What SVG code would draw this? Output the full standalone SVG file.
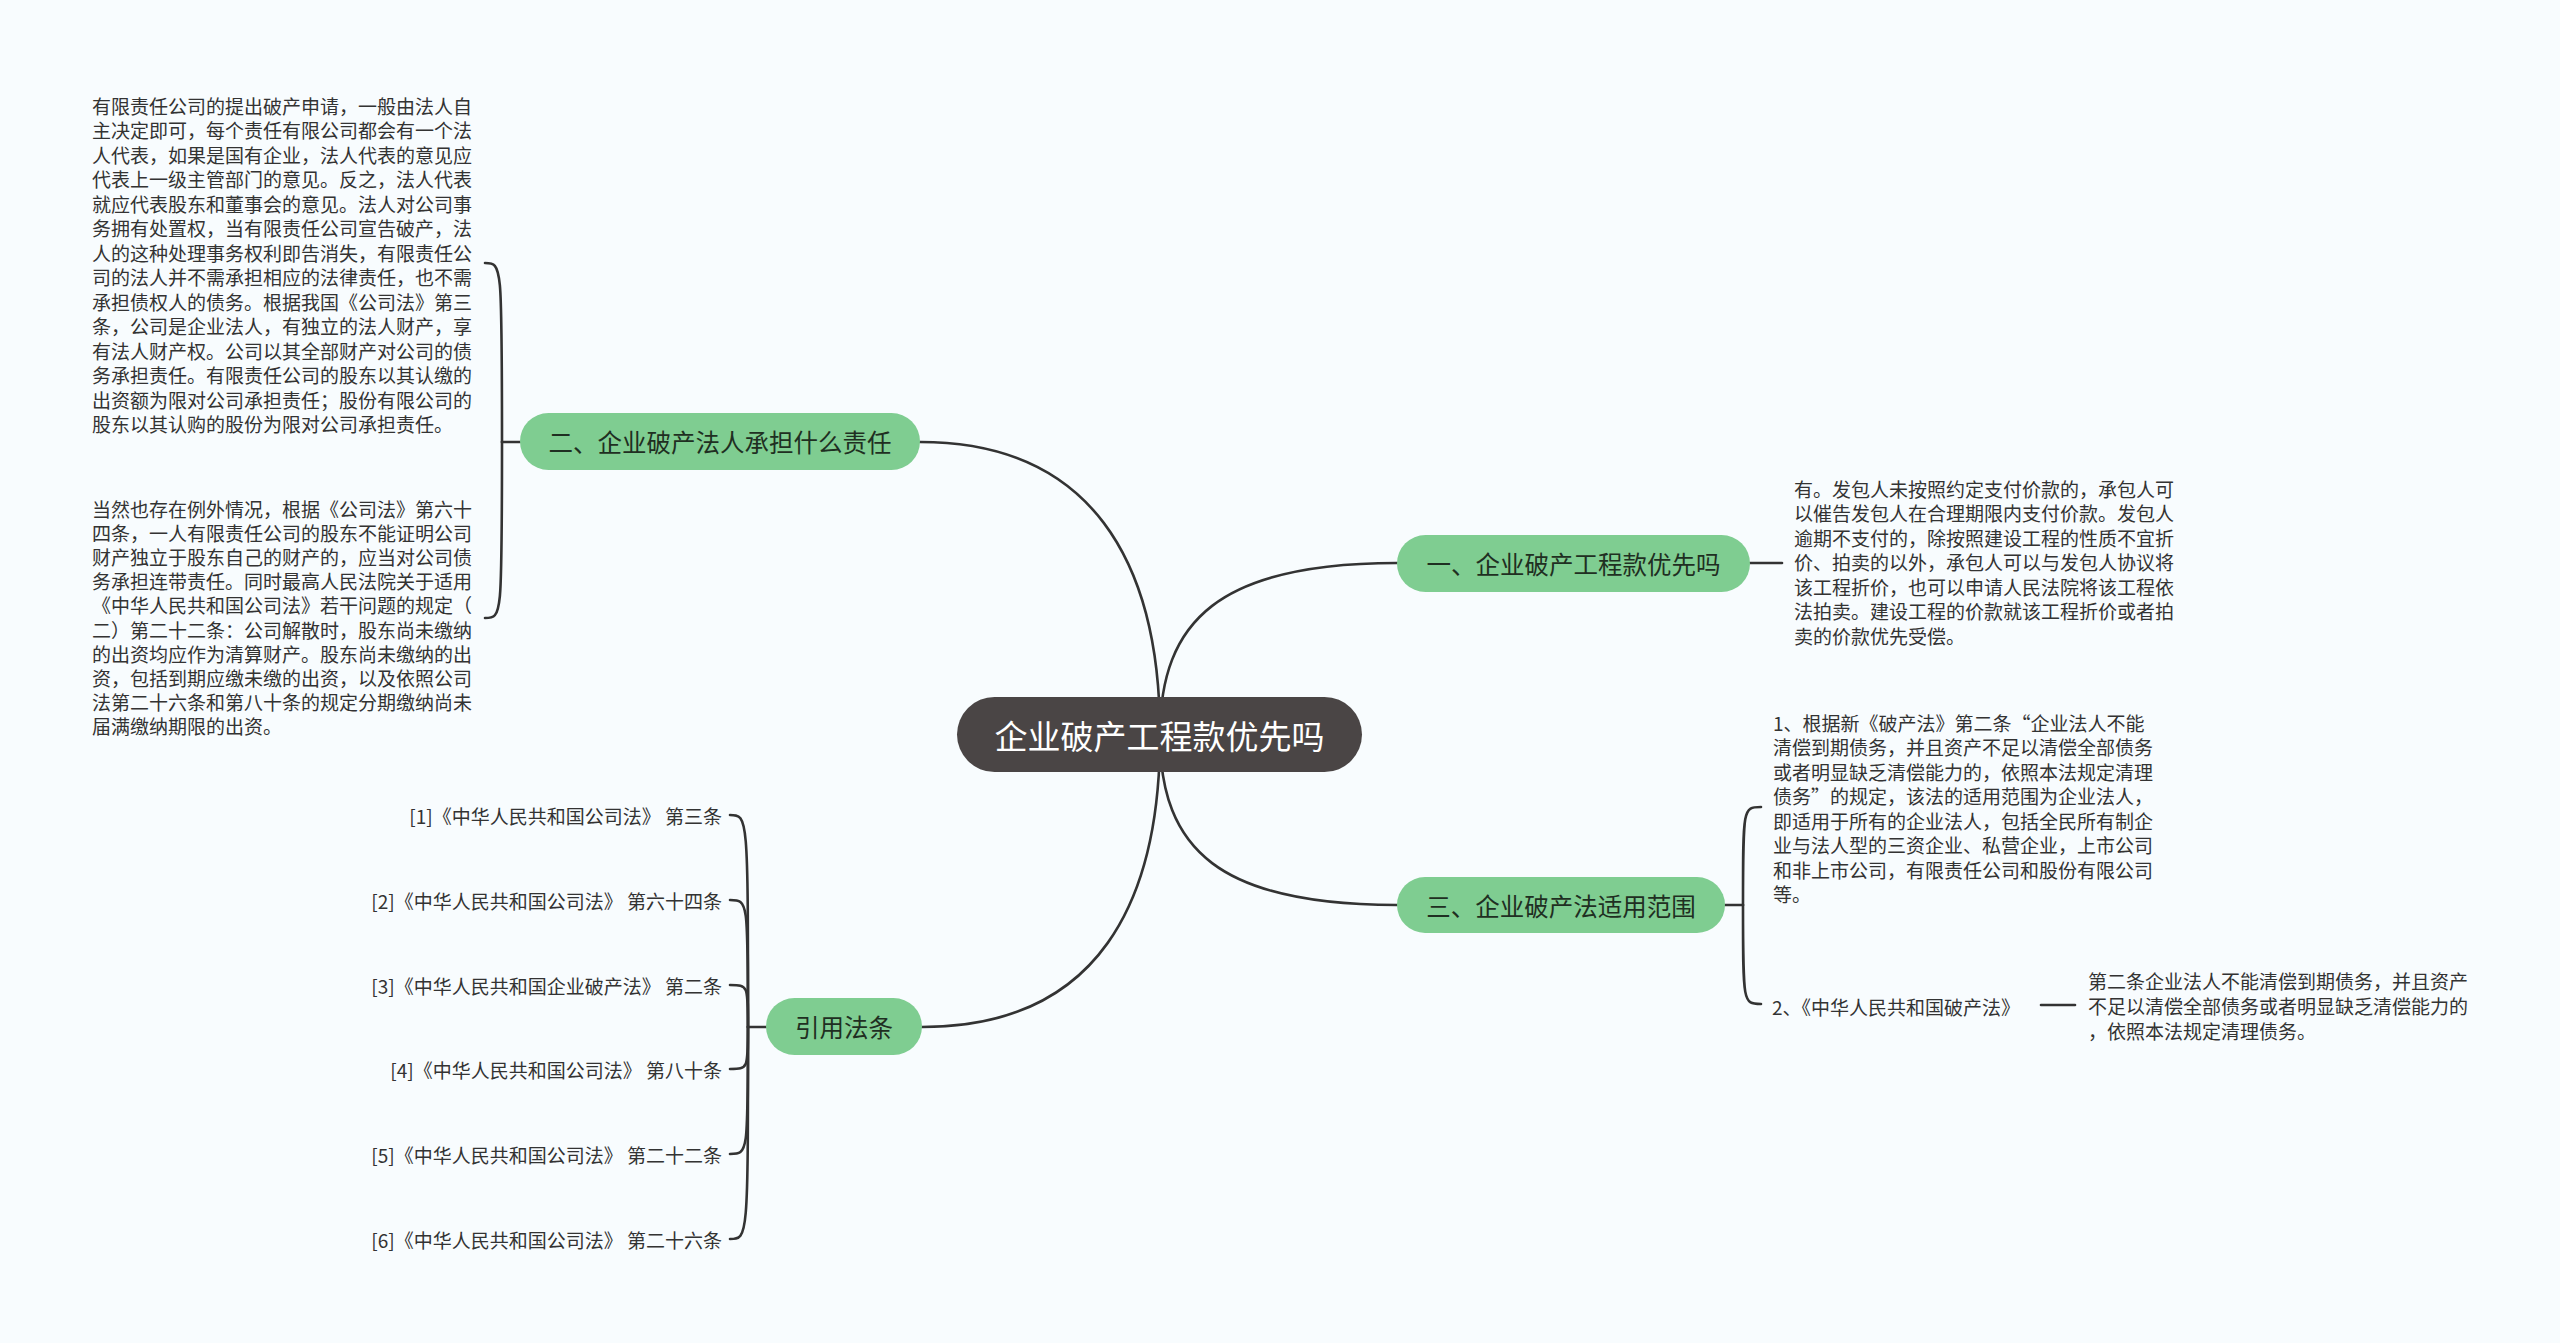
<svg xmlns="http://www.w3.org/2000/svg" width="2560" height="1343" viewBox="0 0 2560 1343">
<style>
.bg{fill:#f8fcfe}
.conn{fill:none;stroke:#333;stroke-width:2.6;stroke-linecap:round}
.root{fill:#4a4545}
.pill{fill:#7fcd91}
.rt{font-family:"Noto Sans CJK SC","Noto Sans",sans-serif;font-size:33px;fill:#fff;text-anchor:middle;dominant-baseline:central}
.pt{font-family:"Noto Sans CJK SC","Noto Sans",sans-serif;font-size:24.5px;fill:#1f2f22;text-anchor:middle;dominant-baseline:central}
.bt{font-family:"Noto Sans CJK SC","Noto Sans",sans-serif;font-size:19px;fill:#333;dominant-baseline:central}
.end{text-anchor:end}
</style>
<rect class="bg" x="0" y="0" width="2560" height="1343"/>
<g id="connectors">
<path class="conn" d="M920,442 C1090,442 1160,560 1160,735"/>
<path class="conn" d="M1160,735 C1160,620 1220,563 1397,563"/>
<path class="conn" d="M1160,735 C1160,850 1220,905 1397,905"/>
<path class="conn" d="M1160,735 C1160,900 1100,1027 922,1027"/>
<path class="conn" d="M520,442 L502,442"/>
<path class="conn" d="M502,442 C502,263 502,263 485,263"/>
<path class="conn" d="M502,442 C502,618 502,618 485,618"/>
<path class="conn" d="M1750,563 L1782,563"/>
<path class="conn" d="M1725,905 L1743,905"/>
<path class="conn" d="M1743,905 C1743,807 1743,807 1761,807"/>
<path class="conn" d="M1743,905 C1743,1004 1743,1004 1761,1004"/>
<path class="conn" d="M2041,1005 L2075,1005"/>
<path class="conn" d="M766,1027 L748,1027"/>
<path class="conn" d="M748,1027 C748,815 748,815 730,815"/>
<path class="conn" d="M748,1027 C748,900 748,900 730,900"/>
<path class="conn" d="M748,1027 C748,985 748,985 730,985"/>
<path class="conn" d="M748,1027 C748,1069 748,1069 730,1069"/>
<path class="conn" d="M748,1027 C748,1154 748,1154 730,1154"/>
<path class="conn" d="M748,1027 C748,1239 748,1239 730,1239"/>
</g>
<g id="root">
<rect class="root" x="957" y="697" width="405" height="75" rx="37.5"/>
<text class="rt" x="1159.5" y="734.5">企业破产工程款优先吗</text>
</g>
<g id="branch1">
<rect class="pill" x="1397" y="535" width="353" height="57" rx="28.5"/>
<text class="pt" x="1573.5" y="563.5">一、企业破产工程款优先吗</text>
</g>
<g id="branch1-text">
<text class="bt" x="1794" y="488">有。发包人未按照约定支付价款的，承包人可</text>
<text class="bt" x="1794" y="512.5">以催告发包人在合理期限内支付价款。发包人</text>
<text class="bt" x="1794" y="537">逾期不支付的，除按照建设工程的性质不宜折</text>
<text class="bt" x="1794" y="561.5">价、拍卖的以外，承包人可以与发包人协议将</text>
<text class="bt" x="1794" y="586">该工程折价，也可以申请人民法院将该工程依</text>
<text class="bt" x="1794" y="610.5">法拍卖。建设工程的价款就该工程折价或者拍</text>
<text class="bt" x="1794" y="635">卖的价款优先受偿。</text>
</g>
<g id="branch2">
<rect class="pill" x="520" y="413" width="400" height="57" rx="28.5"/>
<text class="pt" x="720" y="441.5">二、企业破产法人承担什么责任</text>
</g>
<g id="branch2-text1">
<text class="bt" x="92" y="105">有限责任公司的提出破产申请，一般由法人自</text>
<text class="bt" x="92" y="129.5">主决定即可，每个责任有限公司都会有一个法</text>
<text class="bt" x="92" y="154">人代表，如果是国有企业，法人代表的意见应</text>
<text class="bt" x="92" y="178.5">代表上一级主管部门的意见。反之，法人代表</text>
<text class="bt" x="92" y="203">就应代表股东和董事会的意见。法人对公司事</text>
<text class="bt" x="92" y="227.5">务拥有处置权，当有限责任公司宣告破产，法</text>
<text class="bt" x="92" y="252">人的这种处理事务权利即告消失，有限责任公</text>
<text class="bt" x="92" y="276.5">司的法人并不需承担相应的法律责任，也不需</text>
<text class="bt" x="92" y="301">承担债权人的债务。根据我国《公司法》第三</text>
<text class="bt" x="92" y="325.5">条，公司是企业法人，有独立的法人财产，享</text>
<text class="bt" x="92" y="350">有法人财产权。公司以其全部财产对公司的债</text>
<text class="bt" x="92" y="374.5">务承担责任。有限责任公司的股东以其认缴的</text>
<text class="bt" x="92" y="399">出资额为限对公司承担责任；股份有限公司的</text>
<text class="bt" x="92" y="423.5">股东以其认购的股份为限对公司承担责任。</text>
</g>
<g id="branch2-text2">
<text class="bt" x="92" y="508">当然也存在例外情况，根据《公司法》第六十</text>
<text class="bt" x="92" y="532.2">四条，一人有限责任公司的股东不能证明公司</text>
<text class="bt" x="92" y="556.4">财产独立于股东自己的财产的，应当对公司债</text>
<text class="bt" x="92" y="580.6">务承担连带责任。同时最高人民法院关于适用</text>
<text class="bt" x="92" y="604.8">《中华人民共和国公司法》若干问题的规定（</text>
<text class="bt" x="92" y="629">二）第二十二条：公司解散时，股东尚未缴纳</text>
<text class="bt" x="92" y="653.2">的出资均应作为清算财产。股东尚未缴纳的出</text>
<text class="bt" x="92" y="677.4">资，包括到期应缴未缴的出资，以及依照公司</text>
<text class="bt" x="92" y="701.6">法第二十六条和第八十条的规定分期缴纳尚未</text>
<text class="bt" x="92" y="725.8">届满缴纳期限的出资。</text>
</g>
<g id="branch3">
<rect class="pill" x="1397" y="877" width="328" height="56" rx="28"/>
<text class="pt" x="1561" y="905">三、企业破产法适用范围</text>
</g>
<g id="branch3-item1">
<text class="bt" x="1773" y="722">1、根据新《破产法》第二条“企业法人不能</text>
<text class="bt" x="1773" y="746.5">清偿到期债务，并且资产不足以清偿全部债务</text>
<text class="bt" x="1773" y="771">或者明显缺乏清偿能力的，依照本法规定清理</text>
<text class="bt" x="1773" y="795.5">债务”的规定，该法的适用范围为企业法人，</text>
<text class="bt" x="1773" y="820">即适用于所有的企业法人，包括全民所有制企</text>
<text class="bt" x="1773" y="844.5">业与法人型的三资企业、私营企业，上市公司</text>
<text class="bt" x="1773" y="869">和非上市公司，有限责任公司和股份有限公司</text>
<text class="bt" x="1773" y="893.5">等。</text>
</g>
<g id="branch3-item2">
<text class="bt" x="1772" y="1006">2、《中华人民共和国破产法》</text>
</g>
<g id="branch3-item2-text">
<text class="bt" x="2088" y="980">第二条企业法人不能清偿到期债务，并且资产</text>
<text class="bt" x="2088" y="1005">不足以清偿全部债务或者明显缺乏清偿能力的</text>
<text class="bt" x="2088" y="1030">，依照本法规定清理债务。</text>
</g>
<g id="branch4">
<rect class="pill" x="766" y="998" width="156" height="57" rx="28.5"/>
<text class="pt" x="844" y="1026.5">引用法条</text>
</g>
<g id="ref1"><text class="bt end" x="722" y="815">[1]《中华人民共和国公司法》 第三条</text></g>
<g id="ref2"><text class="bt end" x="722" y="900">[2]《中华人民共和国公司法》 第六十四条</text></g>
<g id="ref3"><text class="bt end" x="722" y="985">[3]《中华人民共和国企业破产法》 第二条</text></g>
<g id="ref4"><text class="bt end" x="722" y="1069">[4]《中华人民共和国公司法》 第八十条</text></g>
<g id="ref5"><text class="bt end" x="722" y="1154">[5]《中华人民共和国公司法》 第二十二条</text></g>
<g id="ref6"><text class="bt end" x="722" y="1239">[6]《中华人民共和国公司法》 第二十六条</text></g>
</svg>
